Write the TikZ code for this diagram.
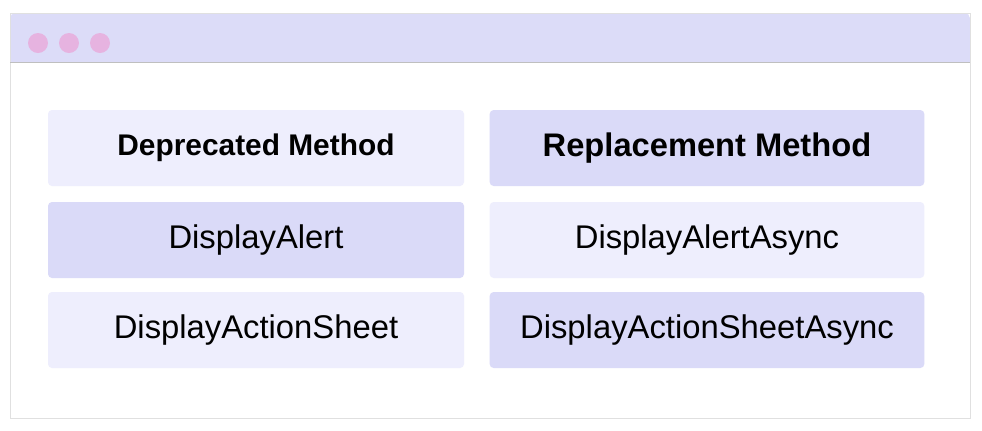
\documentclass[tikz,border=0pt]{standalone}
\usepackage{fontspec}
\setmainfont{Liberation Sans}
\usetikzlibrary{positioning}
\definecolor{barcol}{HTML}{DCDCF8}
\definecolor{lightcell}{HTML}{EEEEFD}
\definecolor{darkcell}{HTML}{DADAF8}
\definecolor{dotcol}{HTML}{E6B3E0}
\tikzset{
  cell/.style={rounded corners=3pt, minimum width=312pt, minimum height=57pt, inner sep=0pt, font=\fontsize{24.6}{28}\selectfont},
  lightbox/.style={cell, fill=lightcell},
  darkbox/.style={cell, fill=darkcell},
  dot/.style={circle, fill=dotcol, minimum size=15pt, inner sep=0pt}
}
\begin{document}
\begin{tikzpicture}[x=0.75pt,y=-0.75pt]
\useasboundingbox (0,0) rectangle (982,430);
\draw[black!12, fill=white] (10,13) rectangle (970,418);
\fill[barcol, rounded corners=4pt] (10,13) rectangle (970,62);
\fill[barcol] (10,40) rectangle (970,62);
\draw[black!12] (10,13) rectangle (970,418);
\draw[black!25] (10,62) -- (970,62);
\node[dot] (dota) at (38,43) {};
\node[dot] (dotb) at (69,43) {};
\node[dot] (dotc) at (100,43) {};
% table cells
\node[lightbox, font=\fontsize{22.4}{26}\selectfont\bfseries] (dep) at (256,148) {Deprecated Method};
\node[darkbox, minimum width=326pt, font=\fontsize{24.5}{28}\selectfont\bfseries] (rep) at (707,148) {Replacement Method};
\node[darkbox] (alert) at (256,240) {DisplayAlert};
\node[lightbox, minimum width=326pt] (alertasync) at (707,240) {DisplayAlertAsync};
\node[lightbox] (sheet) at (256,330) {DisplayActionSheet};
\node[darkbox, minimum width=326pt] (sheetasync) at (707,330) {DisplayActionSheetAsync};
\end{tikzpicture}
\end{document}
